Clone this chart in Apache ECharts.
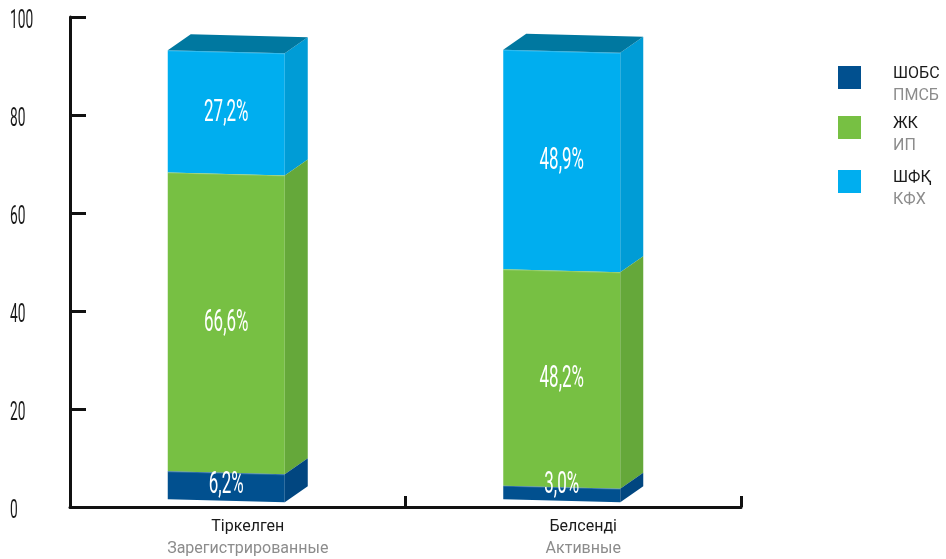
<!DOCTYPE html>
<html>
<head>
<meta charset="utf-8">
<script src="https://cdn.jsdelivr.net/npm/echarts@6/dist/echarts.min.js"></script>
<style>
  html, body { margin: 0; padding: 0; background: #ffffff; }
  #chart { width: 946px; height: 559px; }
</style>
</head>
<body>
<div id="chart"></div>
<script>
// ---- data ----
const categoriesKk = ['Тіркелген', 'Белсенді'];
const categoriesRu = ['Зарегистрированные', 'Активные'];
const seriesNamesKk = ['ШОБС', 'ЖК', 'ШФҚ'];
const seriesNamesRu = ['ПМСБ', 'ИП', 'КФХ'];
const valuesSHOBS = [6.2, 3.0];
const valuesZhK = [66.6, 48.2];
const valuesShFK = [27.2, 48.9];
const yTickValues = [0, 20, 40, 60, 80, 100];

// ---- styles ----
const palette = [
  { front: '#01508F', side: '#014680', top: '#013d70' },
  { front: '#77C043', side: '#65A83A', top: '#5a9834' },
  { front: '#00AEEF', side: '#009CD6', top: '#0078A0' }
];
const FRONT_W = 117, DX = 23, DY = -16, SKEW = 3;
const BAR_BASE = 1.6, BAR_SCALE = 0.916;
const allValues = [valuesSHOBS, valuesZhK, valuesShFK];
const legendTops = [48, 98, 152];
const NARROW_FONT = 'Roboto, "Liberation Sans", sans-serif';

function buildData(k) {
  return allValues[k].map((v, i) => {
    let base = 0;
    for (let j = 0; j < k; j++) base += allValues[j][i];
    return [i, v, base];
  });
}

function makeRender(k) {
  const isTop = k === allValues.length - 1;
  const col = palette[k];
  return function (params, api) {
    const ci = api.value(0), v = api.value(1), b = api.value(2);
    const pB = api.coord([ci, BAR_BASE + b * BAR_SCALE]);
    const pT = api.coord([ci, BAR_BASE + (b + v) * BAR_SCALE]);
    const cx = pT[0];
    const x0 = cx - (FRONT_W + DX) / 2, x1 = x0 + FRONT_W;
    const yT = pT[1], yB = pB[1];
    const children = [
      { type: 'polygon', shape: { points: [[x0, yT], [x1, yT + SKEW], [x1, yB + SKEW], [x0, yB]] },
        style: { fill: col.front } },
      { type: 'polygon', shape: { points: [[x1, yT + SKEW], [x1 + DX, yT + SKEW + DY], [x1 + DX, yB + SKEW + DY], [x1, yB + SKEW]] },
        style: { fill: col.side } },
      { type: 'line', shape: { x1: x0, y1: yT + 0.5, x2: x1, y2: yT + SKEW + 0.5 },
        style: { stroke: 'rgba(255,255,255,0.18)', lineWidth: 1 } }
    ];
    if (isTop) {
      children.push({ type: 'polygon',
        shape: { points: [[x0, yT], [x1, yT + SKEW], [x1 + DX, yT + SKEW + DY], [x0 + DX, yT + DY]] },
        style: { fill: col.top } });
    }
    let yc = (yT + yB) / 2 + SKEW / 2;
    yc = Math.min(yc, yB + SKEW / 2 - 16);
    children.push({
      type: 'text', x: (x0 + x1) / 2, y: yc, scaleX: 0.53, scaleY: 1,
      style: {
        text: v.toFixed(1).replace('.', ',') + '%',
        fill: '#ffffff',
        font: '32px ' + NARROW_FONT,
        textAlign: 'center', textVerticalAlign: 'middle',
        align: 'center', verticalAlign: 'middle'
      }
    });
    return { type: 'group', children: children };
  };
}

const series = seriesNamesKk.map((name, k) => ({
  name: name,
  type: 'custom',
  renderItem: makeRender(k),
  itemStyle: { color: palette[k].front },
  encode: { x: 0, y: 1 },
  data: buildData(k),
  z: 6 - k
}));

// y-axis tick labels drawn condensed (the axis' own labels cannot be narrowed)
series.push({
  name: 'yLabels',
  type: 'custom',
  coordinateSystem: 'cartesian2d',
  silent: true,
  encode: { y: 1 },
  data: yTickValues.map(v => [0, v]),
  renderItem: function (params, api) {
    const v = api.value(1);
    const p = api.coord([0, v]);
    return {
      type: 'text', x: params.coordSys.x - 60, y: p[1] + 5, scaleX: 0.55, scaleY: 1,
      style: {
        text: String(v), fill: '#1a1a1a',
        font: '25px ' + NARROW_FONT,
        textAlign: 'left', textVerticalAlign: 'middle',
        align: 'left', verticalAlign: 'middle'
      }
    };
  },
  z: 10
});

const legends = seriesNamesKk.map((name, k) => ({
  orient: 'vertical',
  left: 838, top: legendTops[k],
  padding: 0,
  itemWidth: 23, itemHeight: 23,
  icon: 'rect',
  selectedMode: false,
  data: [name],
  formatter: function (n) {
    const i = seriesNamesKk.indexOf(n);
    return '{a|' + n + '}\n{b|' + seriesNamesRu[i] + '}';
  },
  textStyle: {
    fontFamily: 'Roboto', fontSize: 16, lineHeight: 22,
    padding: [15, 0, 0, 27],
    rich: {
      a: { fontFamily: 'Roboto', fontSize: 16, color: '#1a1a1a', lineHeight: 22 },
      b: { fontFamily: 'Roboto', fontSize: 16, color: '#8c8c8c', lineHeight: 22 }
    }
  }
}));

const chart = echarts.init(document.getElementById('chart'), null, { renderer: 'canvas' });
chart.setOption({
  animation: false,
  backgroundColor: '#ffffff',
  grid: { left: 70, right: 205, top: 17, bottom: 52 },
  legend: legends,
  xAxis: {
    type: 'category',
    data: categoriesKk,
    boundaryGap: true,
    axisLine: { lineStyle: { color: '#111', width: 3 } },
    axisTick: { show: true, inside: true, length: 11, lineStyle: { color: '#111', width: 3 } },
    axisLabel: {
      margin: 9,
      padding: [0, 0, 0, 20],
      formatter: function (value, idx) {
        return '{a|' + value + '}\n{b|' + categoriesRu[idx] + '}';
      },
      rich: {
        a: { fontFamily: 'Roboto', fontSize: 16, color: '#1a1a1a', lineHeight: 22, align: 'center' },
        b: { fontFamily: 'Roboto', fontSize: 16, color: '#8c8c8c', lineHeight: 22, align: 'center' }
      }
    },
    splitLine: { show: false }
  },
  yAxis: {
    type: 'value',
    min: yTickValues[0], max: yTickValues[yTickValues.length - 1],
    interval: yTickValues[1] - yTickValues[0],
    axisLine: { show: true, lineStyle: { color: '#111', width: 3 } },
    axisTick: { show: true, inside: true, length: 16, lineStyle: { color: '#111', width: 3 } },
    axisLabel: { show: false },
    splitLine: { show: false }
  },
  series: series
});
</script>
</body>
</html>
